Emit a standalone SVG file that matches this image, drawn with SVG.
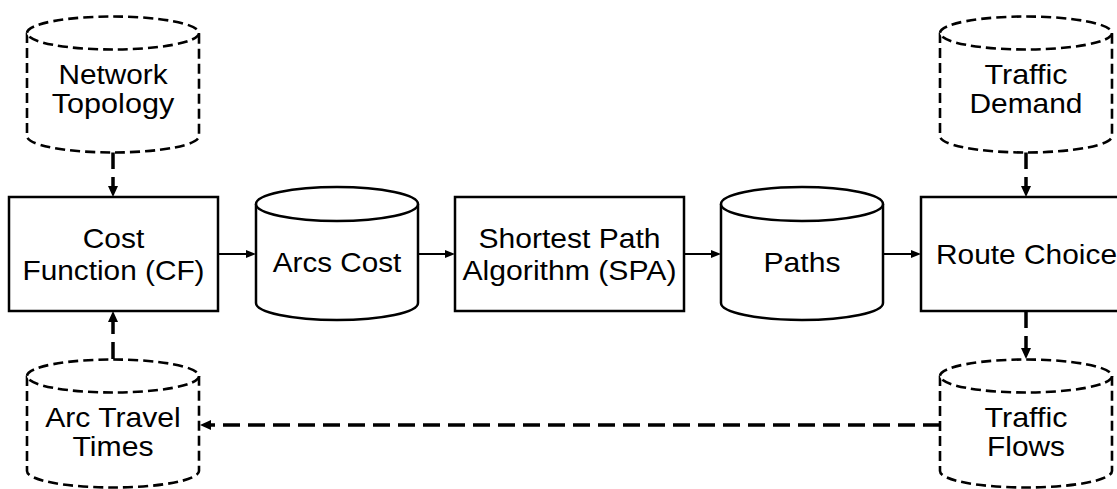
<svg xmlns="http://www.w3.org/2000/svg" width="1117" height="489" viewBox="0 0 1117 489">
<style>
.box{fill:#fff;stroke:#000;stroke-width:2.5}
.cyl{fill:#fff;stroke:#000;stroke-width:2.5}
.dcyl{fill:#fff;stroke:#000;stroke-width:2.6;stroke-dasharray:10 5}
.t{font-family:"Liberation Sans",Arial,Helvetica,sans-serif;font-size:27.5px;fill:#000;text-anchor:middle}
.solid{stroke:#000;stroke-width:2;fill:none}
.dash{stroke:#000;stroke-width:3.5;fill:none;stroke-dasharray:17 8}
</style>
<defs>
<marker id="ah" viewBox="0 -4 10 8" markerWidth="10" markerHeight="8" refX="0" refY="0" orient="auto" markerUnits="userSpaceOnUse"><path d="M0,-4L10,0L0,4z" fill="#000"/></marker>
<marker id="ahd" viewBox="0 -5 11 10" markerWidth="11" markerHeight="10" refX="0" refY="0" orient="auto" markerUnits="userSpaceOnUse"><path d="M0,-5L11,0L0,5z" fill="#000"/></marker>
</defs>
<rect width="1117" height="489" fill="#fff"/>
<g id="connectors">
<line class="solid" x1="218" y1="254" x2="246" y2="254" marker-end="url(#ah)"/>
<line class="solid" x1="418" y1="254" x2="445" y2="254" marker-end="url(#ah)"/>
<line class="solid" x1="684" y1="254" x2="711" y2="254" marker-end="url(#ah)"/>
<line class="solid" x1="883" y1="254" x2="911" y2="254" marker-end="url(#ah)"/>
<line class="dash" x1="113" y1="152" x2="113" y2="186" marker-end="url(#ahd)"/>
<line class="dash" x1="113" y1="359" x2="113" y2="322" marker-end="url(#ahd)"/>
<line class="dash" x1="1026" y1="152" x2="1026" y2="186" marker-end="url(#ahd)"/>
<line class="dash" x1="1026" y1="311" x2="1026" y2="348" marker-end="url(#ahd)"/>
<line class="dash" x1="940" y1="425" x2="211" y2="425" marker-end="url(#ahd)"/>
</g>
<g id="network-topology">
<path class="dcyl" d="M27,33 V136 A86,16.5 0 0 0 199,136 V33"/>
<ellipse class="dcyl" cx="113" cy="33" rx="86" ry="16.5"/>
<text class="t" x="113" y="84" textLength="109" lengthAdjust="spacingAndGlyphs">Network</text>
<text class="t" x="113" y="113" textLength="122.5" lengthAdjust="spacingAndGlyphs">Topology</text>
</g>
<g id="cost-function">
<rect class="box" x="9" y="197" width="209" height="114"/>
<text class="t" x="113.5" y="248" textLength="61.5" lengthAdjust="spacingAndGlyphs">Cost</text>
<text class="t" x="113.5" y="280" textLength="182" lengthAdjust="spacingAndGlyphs">Function (CF)</text>
</g>
<g id="arcs-cost">
<path class="cyl" d="M256,204 V303 A81,17 0 0 0 418,303 V204"/>
<ellipse class="cyl" cx="337" cy="204" rx="81" ry="17"/>
<text class="t" x="337" y="272" textLength="128.5" lengthAdjust="spacingAndGlyphs">Arcs Cost</text>
</g>
<g id="spa">
<rect class="box" x="455" y="197" width="229" height="114"/>
<text class="t" x="569.5" y="248" textLength="182" lengthAdjust="spacingAndGlyphs">Shortest Path</text>
<text class="t" x="569.5" y="280" textLength="214" lengthAdjust="spacingAndGlyphs">Algorithm (SPA)</text>
</g>
<g id="paths">
<path class="cyl" d="M721,204 V303 A81,17 0 0 0 883,303 V204"/>
<ellipse class="cyl" cx="802" cy="204" rx="81" ry="17"/>
<text class="t" x="802" y="272" textLength="77" lengthAdjust="spacingAndGlyphs">Paths</text>
</g>
<g id="route-choice">
<rect class="box" x="921" y="197" width="209" height="114"/>
<text class="t" x="1026.5" y="264" textLength="181" lengthAdjust="spacingAndGlyphs">Route Choice</text>
</g>
<g id="traffic-demand">
<path class="dcyl" d="M940,33 V136 A86,16.5 0 0 0 1112,136 V33"/>
<ellipse class="dcyl" cx="1026" cy="33" rx="86" ry="16.5"/>
<text class="t" x="1026" y="84" textLength="83" lengthAdjust="spacingAndGlyphs">Traffic</text>
<text class="t" x="1026" y="113" textLength="113" lengthAdjust="spacingAndGlyphs">Demand</text>
</g>
<g id="arc-travel-times">
<path class="dcyl" d="M27,376 V471 A86,16.5 0 0 0 199,471 V376"/>
<ellipse class="dcyl" cx="113" cy="376" rx="86" ry="16.5"/>
<text class="t" x="113" y="427" textLength="135.5" lengthAdjust="spacingAndGlyphs">Arc Travel</text>
<text class="t" x="113" y="456" textLength="81" lengthAdjust="spacingAndGlyphs">Times</text>
</g>
<g id="traffic-flows">
<path class="dcyl" d="M940,376 V471 A86,16.5 0 0 0 1112,471 V376"/>
<ellipse class="dcyl" cx="1026" cy="376" rx="86" ry="16.5"/>
<text class="t" x="1026" y="427" textLength="83" lengthAdjust="spacingAndGlyphs">Traffic</text>
<text class="t" x="1026" y="456" textLength="78" lengthAdjust="spacingAndGlyphs">Flows</text>
</g>
</svg>
